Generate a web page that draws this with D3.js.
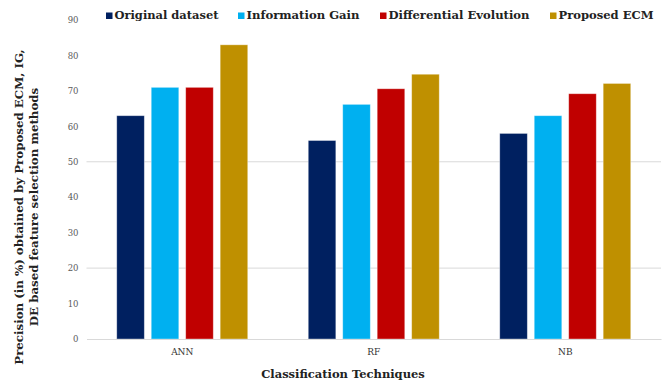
<!DOCTYPE html>
<html>
<head>
<meta charset="utf-8">
<script src="https://cdn.jsdelivr.net/npm/d3@7"></script>
<style>
  html, body { margin: 0; padding: 0; background: #fff; }
  svg { display: block; }
</style>
</head>
<body>
<svg id="chart" width="664" height="383"></svg>
<script>
// Classification techniques and the precision (%) reached by each feature selection method
const categories = ["ANN", "RF", "NB"];
const seriesNames = ["Original dataset", "Information Gain", "Differential Evolution", "Proposed ECM"];
const originalDataset = [63, 56, 58];
const informationGain = [71, 66.2, 63];
const differentialEvolution = [71, 70.6, 69.2];
const proposedECM = [83, 74.7, 72.1];
const yTicks = [0, 10, 20, 30, 40, 50, 60, 70, 80, 90];
const gridValues = [20, 50];
const colors = ["#002060", "#00b0f0", "#c00000", "#bf9000"];

const seriesValues = [originalDataset, informationGain, differentialEvolution, proposedECM];
const rows = categories.map((c, i) => ({
  category: c,
  values: seriesNames.map((s, j) => ({ key: s, value: seriesValues[j][i], color: colors[j] }))
}));

const svg = d3.select("#chart");
const W = 664, H = 383;
const margin = { left: 86.5, right: 3, top: 20, bottom: 44 };
const plotBottom = H - margin.bottom;   // y of value 0
const plotTop = margin.top;             // y of value 90
const plotRight = 661;

const serif = "'DejaVu Serif', 'Liberation Serif', serif";

const x0 = d3.scaleBand().domain(categories).range([margin.left, plotRight]).padding(0);
const groupWidth = 131;
const x1 = d3.scaleBand().domain(seriesNames).range([0, groupWidth]).paddingInner(0.2).paddingOuter(0);
const y = d3.scaleLinear().domain([0, 90]).range([plotBottom, plotTop]);

// Light horizontal gridlines
svg.append("g")
  .selectAll("line")
  .data(gridValues)
  .join("line")
  .attr("x1", margin.left).attr("x2", plotRight)
  .attr("y1", d => y(d)).attr("y2", d => y(d))
  .attr("stroke", "#d9d9d9").attr("stroke-width", 1);

// Y axis (labels only)
const yAxis = svg.append("g")
  .attr("transform", `translate(${margin.left - 8},0)`)
  .call(d3.axisLeft(y).tickValues(yTicks).tickSize(0).tickPadding(0));
yAxis.select(".domain").remove();
yAxis.selectAll("text")
  .attr("font-family", serif)
  .attr("font-size", 8.5)
  .attr("fill", "#595959");

// Bars
const groups = svg.append("g")
  .selectAll("g")
  .data(rows)
  .join("g")
  .attr("transform", d => `translate(${x0(d.category) + (x0.bandwidth() - groupWidth) / 2},0)`);

groups.selectAll("rect")
  .data(d => d.values)
  .join("rect")
  .attr("x", d => x1(d.key))
  .attr("y", d => y(d.value))
  .attr("width", x1.bandwidth())
  .attr("height", d => y(0) - y(d.value))
  .attr("fill", d => d.color)
  .attr("stroke", "#ffffff")
  .attr("stroke-opacity", 0.45)
  .attr("stroke-width", 0.8);

// X axis baseline and category labels
const xAxis = svg.append("g")
  .attr("transform", `translate(0,${plotBottom})`)
  .call(d3.axisBottom(x0).tickSize(0).tickPadding(10));
xAxis.select(".domain").attr("stroke", "#d9d9d9").attr("stroke-width", 1.2);
xAxis.selectAll("text")
  .attr("font-family", serif)
  .attr("font-size", 9)
  .attr("fill", "#333");

// Axis titles
svg.append("text")
  .attr("x", 343).attr("y", 378)
  .attr("text-anchor", "middle")
  .attr("font-family", serif)
  .attr("font-weight", "bold")
  .attr("font-size", 11.5)
  .attr("fill", "#222")
  .text("Classification Techniques");

const yTitle = svg.append("text")
  .attr("transform", "translate(0,207) rotate(-90)")
  .attr("text-anchor", "middle")
  .attr("font-family", serif)
  .attr("font-weight", "bold")
  .attr("font-size", 11.8)
  .attr("fill", "#222");
yTitle.append("tspan").attr("x", 0).attr("y", 23).text("Precision (in %) obtained by Proposed ECM, IG,");
yTitle.append("tspan").attr("x", 0).attr("y", 37.5).text("DE based feature selection methods");

// Legend: coloured square followed by a bold label
const legendX = [106, 238, 380, 550];
const legendW = [104, 113, 141, 95];
const legend = svg.append("g")
  .selectAll("g")
  .data(seriesNames)
  .join("g")
  .attr("transform", (d, i) => `translate(${legendX[i]},19)`);
legend.append("rect")
  .attr("x", 0).attr("y", -6.5)
  .attr("width", 6.5).attr("height", 6.5)
  .attr("fill", (d, i) => colors[i]);
legend.append("text")
  .attr("x", 8.5).attr("y", 0)
  .attr("font-family", serif)
  .attr("font-weight", "bold")
  .attr("font-size", 11.5)
  .attr("fill", "#222")
  .attr("textLength", (d, i) => legendW[i])
  .attr("lengthAdjust", "spacingAndGlyphs")
  .text(d => d);
</script>
</body>
</html>
